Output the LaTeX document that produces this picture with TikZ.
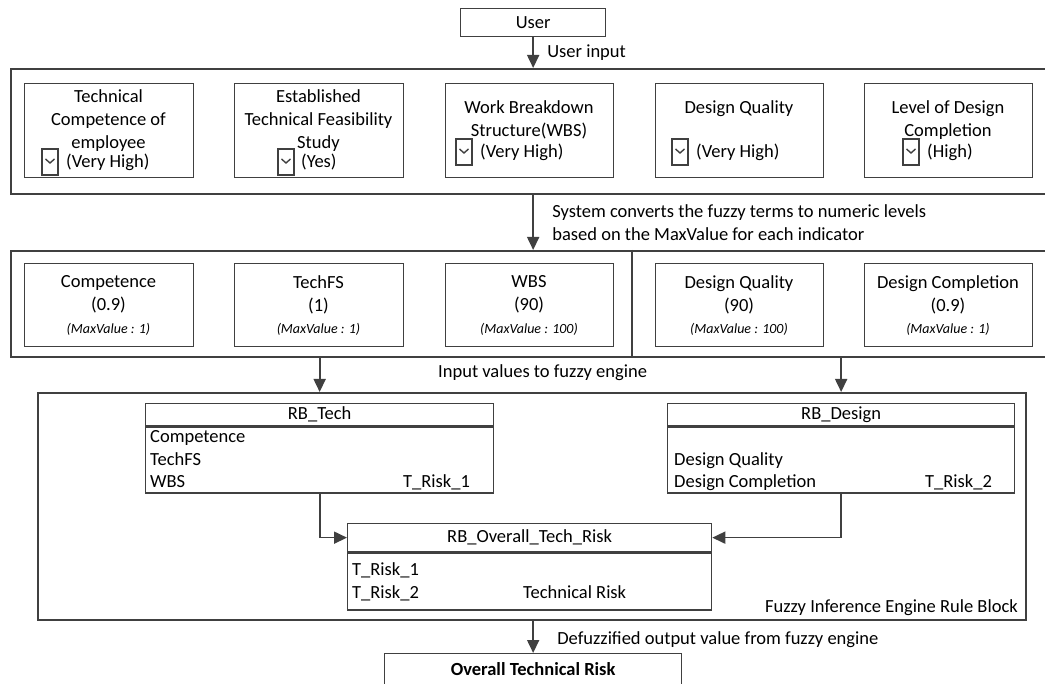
\documentclass[tikz,border=0pt]{standalone}
\usepackage{fontspec}
\setmainfont{Carlito}
\usetikzlibrary{positioning,arrows.meta}
\definecolor{linie}{RGB}{64,64,64}

\begin{document}
\begin{tikzpicture}[x=1pt,y=-1pt,font=\fontsize{18.5}{23}\selectfont]
\useasboundingbox (0,0) rectangle (1045,684);

% 1. Stile definieren
\tikzset{
  kasten/.style={draw=linie, line width=1.3pt, inner sep=0pt, anchor=north west},
  rahmen/.style={draw=linie, line width=2pt, inner sep=0pt, anchor=north west},
  pfeil/.style={draw=linie, line width=1.7pt, -{Triangle[length=13pt,width=12pt]}},
  titel/.style={anchor=north, align=center, inner sep=0pt},
  zeile/.style={anchor=base west, inner sep=0pt},
  maxwert/.style={anchor=base, inner sep=0pt, font=\fontsize{14}{16}\selectfont\itshape},
  auswahl/.pic={
    \draw[linie, line width=1.1pt] (0,0) rectangle (16,26);
    \draw[linie, line width=1.4pt] (3.5,10) -- (8,14) -- (12.5,10);
  }
}

% 2. Koordinaten
\coordinate (teiloben) at (632,250);
\coordinate (teilunten) at (632,356);

% 3. Rahmen
\node [rahmen, minimum width=1036pt, minimum height=125pt] (eingabe) at (10,68) {};
\node [rahmen, minimum width=1036pt, minimum height=106pt] (werte) at (10,250) {};
\node [rahmen, minimum width=988pt, minimum height=227pt] (engine) at (37,392) {};
\draw [linie, line width=2pt] (teiloben) -- (teilunten);

% 4. Benutzer und Eingaben
\node [kasten, minimum width=145pt, minimum height=28pt] (user) at (460,8) {User};

\node [kasten, minimum width=169pt, minimum height=94pt] (kompetenz) at (24,83) {};
\node [kasten, minimum width=169pt, minimum height=94pt] (machbarkeit) at (234,83) {};
\node [kasten, minimum width=168pt, minimum height=94pt] (struktur) at (445,83) {};
\node [kasten, minimum width=168pt, minimum height=94pt] (qualitaet) at (655,83) {};
\node [kasten, minimum width=168pt, minimum height=94pt] (fertig) at (864,83) {};

\node [titel] (kompetenztitel) at (108.5,89) {Technical\\Competence of\\employee};
\node [titel] (machbarkeittitel) at (318.5,89) {Established\\Technical Feasibility\\Study};
\node [titel] (strukturtitel) at (529,100) {Work Breakdown\\Structure(WBS)};
\node [titel] (qualitaettitel) at (739,100) {Design Quality};
\node [titel] (fertigtitel) at (948,100) {Level of Design\\Completion};

\pic at (42,149) {auswahl};
\pic at (278,149) {auswahl};
\pic at (456,139) {auswahl};
\pic at (672,139) {auswahl};
\pic at (903,139) {auswahl};
\node [zeile] (kompetenzwahl) at (66,168) {(Very High)};
\node [zeile] (machbarkeitwahl) at (301,168) {(Yes)};
\node [zeile] (strukturwahl) at (480,158) {(Very High)};
\node [zeile] (qualitaetwahl) at (696,158) {(Very High)};
\node [zeile] (fertigwahl) at (927,158) {(High)};

% 5. Numerische Werte
\node [kasten, minimum width=169pt, minimum height=83pt] (kompwert) at (24,263) {};
\node [kasten, minimum width=169pt, minimum height=83pt] (machwert) at (234,263) {};
\node [kasten, minimum width=168pt, minimum height=83pt] (wbswert) at (445,263) {};
\node [kasten, minimum width=168pt, minimum height=83pt] (qualwert) at (655,263) {};
\node [kasten, minimum width=168pt, minimum height=83pt] (fertigwert) at (864,263) {};

\node [titel] (kompwerttitel) at (108.5,275) {Competence\\(0.9)};
\node [titel] (machwerttitel) at (318.5,275) {TechFS\\(1)};
\node [titel] (wbswerttitel) at (529,275) {WBS\\(90)};
\node [titel] (qualwerttitel) at (739,275) {Design Quality\\(90)};
\node [titel] (fertigwerttitel) at (948,275) {Design Completion\\(0.9)};

\node [maxwert] (kompmax) at (108.5,333.5) {(MaxValue : 1)};
\node [maxwert] (machmax) at (318.5,333.5) {(MaxValue : 1)};
\node [maxwert] (wbsmax) at (529,333.5) {(MaxValue : 100)};
\node [maxwert] (qualmax) at (739,333.5) {(MaxValue : 100)};
\node [maxwert] (fertigmax) at (948,333.5) {(MaxValue : 1)};

% 6. Regelbloecke
\node [kasten, minimum width=348pt, minimum height=22pt] (rbtechkopf) at (145,403) {RB\_Tech};
\node [kasten, minimum width=348pt, minimum height=66pt, below=0pt of rbtechkopf] (rbtech) {};
\node [kasten, minimum width=347pt, minimum height=22pt] (rbdesignkopf) at (667,403) {RB\_Design};
\node [kasten, minimum width=347pt, minimum height=66pt, below=0pt of rbdesignkopf] (rbdesign) {};
\node [kasten, minimum width=364pt, minimum height=28pt] (rbgesamtkopf) at (347,523) {RB\_Overall\_Tech\_Risk};
\node [kasten, minimum width=364pt, minimum height=57pt, below=0pt of rbgesamtkopf] (rbgesamt) {};

\node [zeile] (techein1) at (150,443) {Competence};
\node [zeile] (techein2) at (150,465.5) {TechFS};
\node [zeile] (techein3) at (150,488) {WBS};
\node [zeile] (techaus) at (403,488) {T\_Risk\_1};
\node [zeile] (designein1) at (674,465.5) {Design Quality};
\node [zeile] (designein2) at (674,488) {Design Completion};
\node [zeile] (designaus) at (925,488) {T\_Risk\_2};
\node [zeile] (gesamtein1) at (352,576) {T\_Risk\_1};
\node [zeile] (gesamtein2) at (352,598) {T\_Risk\_2};
\node [zeile] (gesamtaus) at (523,598) {Technical Risk};
\node [anchor=base east, inner sep=0pt] (enginetext) at (1018,612) {Fuzzy Inference Engine Rule Block};

% 7. Ergebnis
\node [kasten, minimum width=297pt, minimum height=31pt, font=\fontsize{18.5}{23}\selectfont\bfseries] (ergebnis) at (384,653) {Overall Technical Risk};

% 8. Pfeile
\draw [pfeil] (user.south) -- (user.south |- eingabe.north)
  node [midway, right=10pt] {User input};
\draw [pfeil] (eingabe.south -| user.south) -- (werte.north -| user.south)
  node [midway, right=15pt, align=left] {System converts the fuzzy terms to numeric levels\\based on the MaxValue for each indicator};
\draw [pfeil] (werte.south -| rbtechkopf.north) -- (engine.north -| rbtechkopf.north);
\draw [pfeil] (werte.south -| rbdesignkopf.north) -- (engine.north -| rbdesignkopf.north);
\node [zeile] (enginewerte) at (438,378) {Input values to fuzzy engine};
\draw [pfeil] (rbtech.south) |- (rbgesamtkopf.west);
\draw [pfeil] (rbdesign.south) |- (rbgesamtkopf.east);
\draw [pfeil] (engine.south -| ergebnis.north) -- (ergebnis.north)
  node [midway, right=20pt, yshift=-3pt] {Defuzzified output value from fuzzy engine};

\end{tikzpicture}
\end{document}
